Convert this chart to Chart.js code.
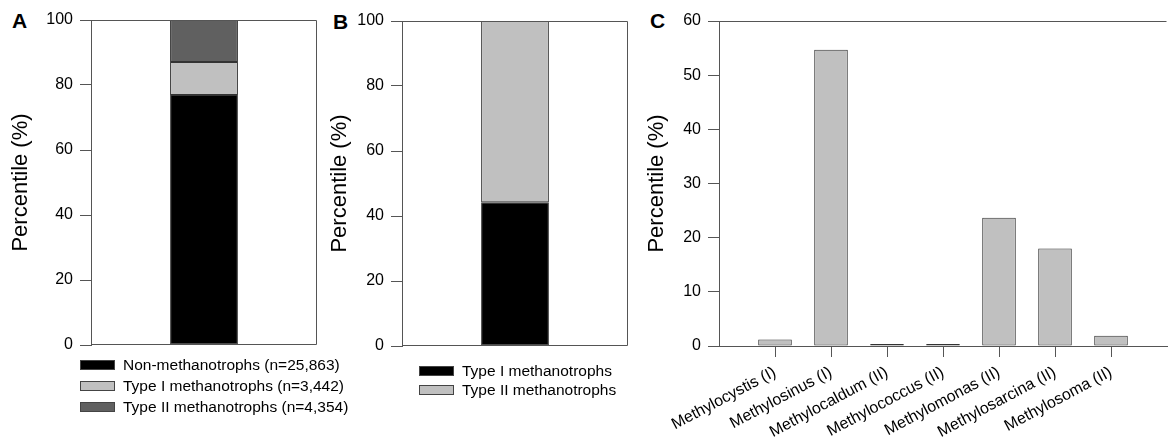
<!DOCTYPE html>
<html>
<head>
<meta charset="utf-8">
<script src="https://cdn.jsdelivr.net/npm/chart.js@4"></script>
<style>
body { margin: 0; width: 1168px; height: 448px; background: #fff; position: relative; overflow: hidden; font-family: "Liberation Sans", Arial, sans-serif; }
canvas { position: absolute; top: 0; }
.lettre { position: absolute; font-weight: bold; font-size: 21px; line-height: 21px; color: #000; }
.legende { position: absolute; font-size: 15.5px; color: #000; }
.legende .ligne { display: flex; align-items: center; white-space: nowrap; }
.legende .boite { width: 33px; height: 8px; border: 1px solid #444; margin-right: 8px; }
</style>
</head>
<body>
<div class="lettre" style="left:12px;top:10px">A</div>
<div class="lettre" style="left:333px;top:11px">B</div>
<div class="lettre" style="left:650px;top:10px">C</div>
<canvas id="graphA" width="320" height="448" style="left:0px"></canvas>
<canvas id="graphB" width="320" height="448" style="left:320px"></canvas>
<canvas id="graphC" width="528" height="448" style="left:640px"></canvas>
<script>
// Panneau A : répartition des séquences
const seriesA = ['Non-methanotrophs (n=25,863)', 'Type I methanotrophs (n=3,442)', 'Type II methanotrophs (n=4,354)']
const valeursA = [76.9, 10.2, 12.9]
const couleursA = ['#000000', '#c0c0c0', '#606060']

// Panneau B : type I / type II
const seriesB = ['Type I methanotrophs', 'Type II methanotrophs']
const valeursB = [44.2, 55.8]
const couleursB = ['#000000', '#c0c0c0']

// Panneau C : genres
const genres = ['Methylocystis (I)', 'Methylosinus (I)', 'Methylocaldum (II)', 'Methylococcus (II)', 'Methylomonas (II)', 'Methylosarcina (II)', 'Methylosoma (II)']
const valeursC = [1.2, 54.7, 0.1, 0.3, 23.7, 18.0, 1.9]

const police = '"Liberation Sans", Arial, sans-serif'
const gris = '#555'

//plugin qui trace les côtés du cadre qui ne sont pas des axes
const cadre = {
    id: 'cadre',
    afterDraw(chart, args, opts) {
        const ctx = chart.ctx
        const a = chart.chartArea
        const g = Math.round(a.left) + 0.5, d = Math.round(a.right) - 0.5
        const h = Math.round(a.top) + 0.5, b = Math.round(a.bottom) - 0.5
        ctx.save()
        ctx.strokeStyle = gris
        ctx.lineWidth = 1
        ctx.beginPath()
        for (let cote of opts.cotes || []) {
            if (cote === 'haut') { ctx.moveTo(g, h); ctx.lineTo(d, h) }
            if (cote === 'droite') { ctx.moveTo(d, h); ctx.lineTo(d, b) }
            if (cote === 'bas') { ctx.moveTo(g, b); ctx.lineTo(d, b) }
        }
        ctx.stroke()
        ctx.restore()
    }
}

function axeY(max, pas, largeur, marge) {
    return {
        min: 0,
        max: max,
        stacked: true,
        ticks: { stepSize: pas, color: '#000', font: { size: 16, family: police }, padding: 7 },
        grid: { drawOnChartArea: false, drawTicks: true, tickLength: 11, color: gris },
        border: { display: true, color: gris },
        title: { display: true, text: 'Percentile (%)', color: '#000', font: { size: 22, family: police }, padding: { top: marge, bottom: 0 } },
        afterFit: (s) => { s.width = largeur }
    }
}

function graphEmpile(id, noms, valeurs, couleurs, padding, largeurY, marge) {
    const datasets = []
    for (let i = 0; i < noms.length; i++) {
        datasets.push({
            label: noms[i],
            data: [valeurs[i]],
            backgroundColor: couleurs[i],
            borderColor: '#333',
            borderWidth: 1,
            borderSkipped: false,
            barPercentage: 0.3,
            categoryPercentage: 1
        })
    }
    return new Chart(document.getElementById(id), {
        type: 'bar',
        data: { labels: [''], datasets: datasets },
        options: {
            responsive: false,
            animation: false,
            devicePixelRatio: 1,
            layout: { padding: padding },
            plugins: { legend: { display: false }, tooltip: { enabled: false }, cadre: { cotes: ['haut', 'droite', 'bas'] } },
            scales: {
                x: { display: false, stacked: true },
                y: axeY(100, 20, largeurY, marge)
            }
        },
        plugins: [cadre]
    })
}

//légende en html à partir des datasets du graphique
function legende(chart, x, y, hauteurLigne) {
    const div = document.createElement('div')
    div.className = 'legende'
    div.style.left = x + 'px'
    div.style.top = y + 'px'
    for (let ds of chart.data.datasets) {
        div.innerHTML += `<div class="ligne" style="height:${hauteurLigne}px"><span class="boite" style="background:${ds.backgroundColor}"></span>${ds.label}</div>`
    }
    document.body.appendChild(div)
}

const graphA = graphEmpile('graphA', seriesA, valeursA, couleursA, { top: 20, right: 3, bottom: 103, left: 0 }, 91, 8)
legende(graphA, 80, 354, 21)

const graphB = graphEmpile('graphB', seriesB, valeursB, couleursB, { top: 21, right: 12, bottom: 102, left: 0 }, 82, 7)
legende(graphB, 419, 361, 19)

const graphC = new Chart(document.getElementById('graphC'), {
    type: 'bar',
    data: {
        datasets: [{
            data: valeursC.map((v, i) => ({ x: i + 1, y: v })),
            backgroundColor: '#c0c0c0',
            borderColor: '#333',
            borderWidth: 1,
            borderSkipped: false,
            minBarLength: 2,
            barPercentage: 0.6,
            categoryPercentage: 1
        }]
    },
    options: {
        responsive: false,
        animation: false,
        devicePixelRatio: 1,
        layout: { padding: { top: 21, right: 1, bottom: 0, left: 0 } },
        plugins: { legend: { display: false }, tooltip: { enabled: false }, cadre: { cotes: ['haut'] } },
        scales: {
            x: {
                type: 'linear',
                min: 0,
                max: genres.length + 1,
                offset: false,
                ticks: {
                    stepSize: 1,
                    autoSkip: false,
                    minRotation: 28,
                    maxRotation: 28,
                    padding: 6,
                    color: '#000',
                    font: { size: 16, family: police },
                    callback: (v) => genres[v - 1] || ''
                },
                afterBuildTicks: (s) => { s.ticks = s.ticks.filter(t => t.value >= 1 && t.value <= genres.length) },
                afterFit: (s) => { s.height = 102; s.paddingLeft = 0; s.paddingRight = 0 },
                grid: { offset: false, drawOnChartArea: false, drawTicks: true, tickLength: 11, color: gris },
                border: { display: true, color: gris }
            },
            y: axeY(60, 10, 79, 4)
        }
    },
    plugins: [cadre]
})
</script>
</body>
</html>
